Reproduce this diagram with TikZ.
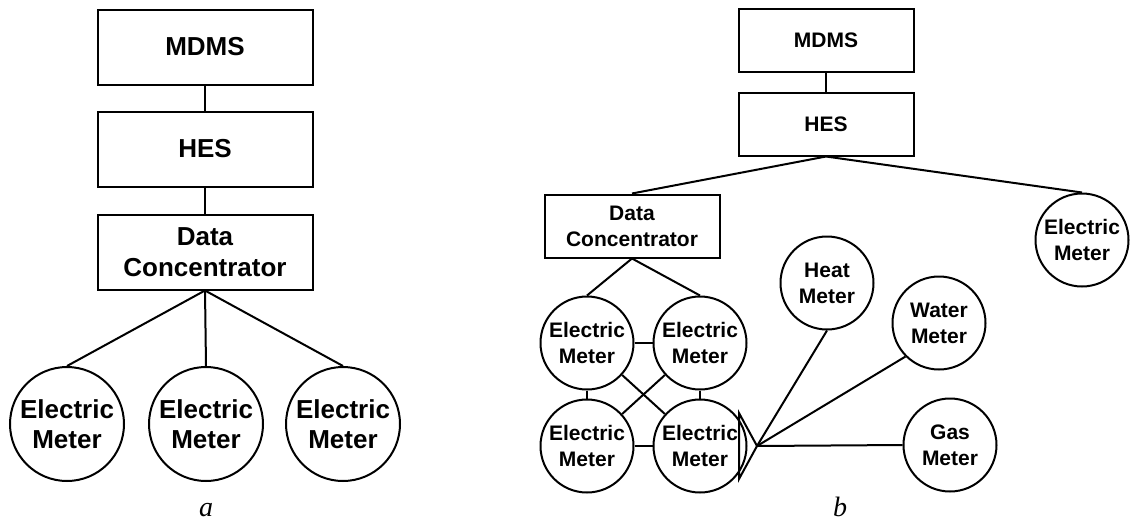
\documentclass[tikz,border=0pt]{standalone}
\usepackage{fontspec}
\setmainfont{Liberation Sans}
\newfontfamily\captionfont{Liberation Serif}
\tikzset {
  % rectangular boxes (head end)
  box/.style = {draw, rectangle, line width=1pt, align=center, inner sep=0pt,
    minimum width=107.5pt, minimum height=37.5pt, font=\bfseries\fontsize{13}{15.5}\selectfont},
  % circled meters
  meter/.style = {draw, circle, line width=1pt, align=center, inner sep=0pt,
    minimum size=57pt, font=\bfseries\fontsize{13}{15}\selectfont},
  % smaller versions for the second drawing
  smallbox/.style = {box, minimum width=87.5pt, minimum height=31.5pt, font=\bfseries\fontsize{10.5}{13}\selectfont},
  smallmeter/.style = {meter, minimum size=46.5pt, font=\bfseries\fontsize{10.5}{13}\selectfont},
  link/.style = {line width=1pt},
  sub/.style = {anchor=base, font=\captionfont\itshape\fontsize{14}{16}\selectfont},
}
\begin{document}
\begin{tikzpicture}[x=0.5pt, y=-0.5pt]
  \useasboundingbox (0,0) rectangle (1130,525);

  % a
  \node[box] (mdms) at (205,47) {MDMS};
  \node[box] (hes) at (205,149) {HES};
  \node[box] (dc) at (205,252) {Data\\Concentrator};
  \node[meter] (em1) at (67,424) {Electric\\Meter};
  \node[meter] (em2) at (206,424) {Electric\\Meter};
  \node[meter] (em3) at (343,424) {Electric\\Meter};

  \draw[link] (mdms) -- (hes);
  \draw[link] (hes) -- (dc);
  \draw[link] (dc.south) -- (em1.north);
  \draw[link] (dc.south) -- (em2.north);
  \draw[link] (dc.south) -- (em3.north);

  \node[sub] (capa) at (206,516) {a};

  % b
  \node[smallbox] (mdmsb) at (826,40) {MDMS};
  \node[smallbox] (hesb) at (826,124) {HES};
  \node[smallbox] (dcb) at (632,226) {Data\\Concentrator};
  \node[smallmeter] (emr) at (1082,240) {Electric\\Meter};
  \node[smallmeter] (emtl) at (587,343) {Electric\\Meter};
  \node[smallmeter] (emtr) at (700,343) {Electric\\Meter};
  \node[smallmeter] (embl) at (587,446) {Electric\\Meter};
  \node[smallmeter] (embr) at (700,446) {Electric\\Meter};
  \node[smallmeter] (heat) at (827,283) {Heat\\Meter};
  \node[smallmeter] (water) at (939,323) {Water\\Meter};
  \node[smallmeter] (gas) at (950,445) {Gas\\Meter};

  \coordinate (hub) at (757,446);
  \coordinate (hubtop) at (739,413);
  \coordinate (hubbot) at (739,479);

  \draw[link] (mdmsb) -- (hesb);
  \draw[link] (hesb.south) -- (dcb.north);
  \draw[link] (hesb.south) -- (emr.north);
  \draw[link] (dcb.south) -- (emtl.north);
  \draw[link] (dcb.south) -- (emtr.north);
  \draw[link] (emtl) -- (emtr);
  \draw[link] (embl) -- (embr);
  \draw[link] (emtl) -- (embl);
  \draw[link] (emtr) -- (embr);
  \draw[link] (emtl) -- (embr);
  \draw[link] (emtr) -- (embl);

  \draw[link] (hubtop) -- (hub) -- (hubbot) -- cycle;
  \draw[link] (hub) -- (heat.south);
  \draw[link] (hub) -- (water.south west);
  \draw[link] (hub) -- (gas.west);

  \node[sub] (capb) at (840,516) {b};
\end{tikzpicture}
\end{document}
